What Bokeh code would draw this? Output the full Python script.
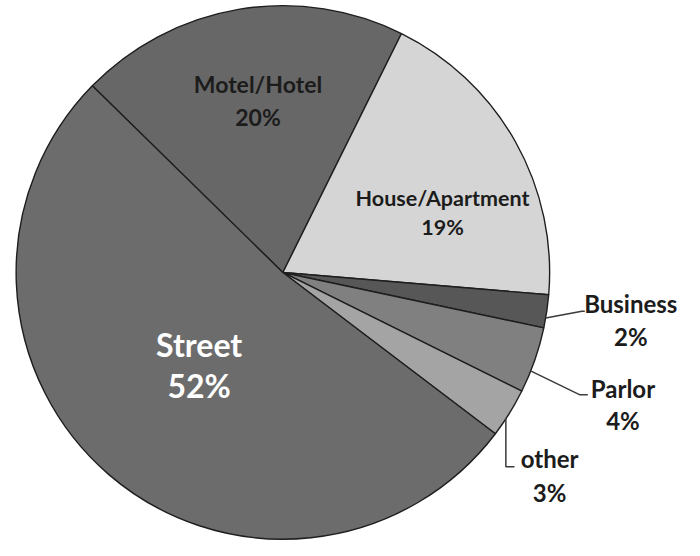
import math
from bokeh.plotting import figure
from bokeh.models import Range1d
from bokeh.core.properties import value
from bokeh.embed import file_html
from bokeh.resources import INLINE

# ---- data ----
categories = ["Motel/Hotel", "House/Apartment", "Business", "Parlor", "other", "Street"]
percents = [20, 19, 2, 4, 3, 52]

# ---- styles / layout ----
colors = ["#676767", "#d5d5d5", "#575757", "#808080", "#a4a4a4", "#6c6c6c"]
text_colors = ["#1c1c1c", "#1c1c1c", "#1c1c1c", "#1c1c1c", "#1c1c1c", "#ffffff"]
font_sizes = ["23px", "21.5px", "24px", "24px", "24px", "32px"]
line_gaps = [34, 30, 34, 32, 35, 42]

W, H = 684, 540          # canvas size (fits the 700x556 window with 8px margin)
REF_W, REF_H = 700, 556  # layout coordinates
cx_px, cy_px, R = 289, 280, 273
start_deg = 135.6  # first slice starts here and slices run clockwise


def Y(py):
    return REF_H - py


p = figure(width=W, height=H, output_backend="svg", toolbar_location=None,
           x_range=Range1d(0, REF_W), y_range=Range1d(0, REF_H),
           min_border=0)
p.axis.visible = False
p.grid.visible = False
p.outline_line_color = None
p.background_fill_color = "white"
p.border_fill_color = "white"

cx, cy = cx_px, Y(cy_px)

total = float(sum(percents))
starts, ends, mids = [], [], []
a = start_deg
for v in percents:
    span = 360.0 * v / total
    ends.append(math.radians(a))
    starts.append(math.radians(a - span))
    mids.append(a - span / 2)
    a -= span

p.wedge(x=[cx] * len(percents), y=[cy] * len(percents), radius=R,
        start_angle=starts, end_angle=ends, direction="anticlock",
        fill_color=colors, line_color="#1e1e1e", line_width=1.4)

# inside labels: radial fraction and angle offset from the slice middle
inside = {"Motel/Hotel": (0.655, -1.4), "House/Apartment": (0.64, -8.6), "Street": (0.47, -1.1)}
# outside labels: leader angle offset, elbow points and text anchor (layout px)
outside = {
    "Business": (-1.5, [(595, 320), (598, 320)], (645, 312)),
    "Parlor": (-2.6, [(593, 406), (601, 406)], (637, 400)),
    "other": (-1.5, [(521, 480), (526, 480)], (562, 472)),
}

for i, cat in enumerate(categories):
    pct = f"{percents[i]}%"
    gap = line_gaps[i]
    if cat in inside:
        rf, da = inside[cat]
        ang = math.radians(mids[i] + da)
        lx = cx + rf * R * math.cos(ang)
        ly = cy + rf * R * math.sin(ang)
        y1, y2 = ly + gap / 2, ly - gap / 2
    else:
        da, pts, (tx, ty) = outside[cat]
        ang = math.radians(mids[i] + da)
        rx = cx + R * math.cos(ang)
        ry = cy + R * math.sin(ang)
        if cat == "other":
            xs = [rx, rx, pts[1][0]]
            ys = [ry, Y(pts[0][1]), Y(pts[1][1])]
        else:
            xs = [rx] + [q[0] for q in pts]
            ys = [ry] + [Y(q[1]) for q in pts]
        p.line(xs, ys, line_color="#3a3a3a", line_width=1.5)
        lx = tx
        y1, y2 = Y(ty), Y(ty) - gap
    p.text(x=[lx, lx], y=[y1, y2], text=[cat, pct],
           text_font=value("Lato"), text_font_style="bold",
           text_font_size=font_sizes[i], text_color=text_colors[i],
           text_align="center", text_baseline="middle")

open("out.html", "w").write(file_html(p, INLINE))
